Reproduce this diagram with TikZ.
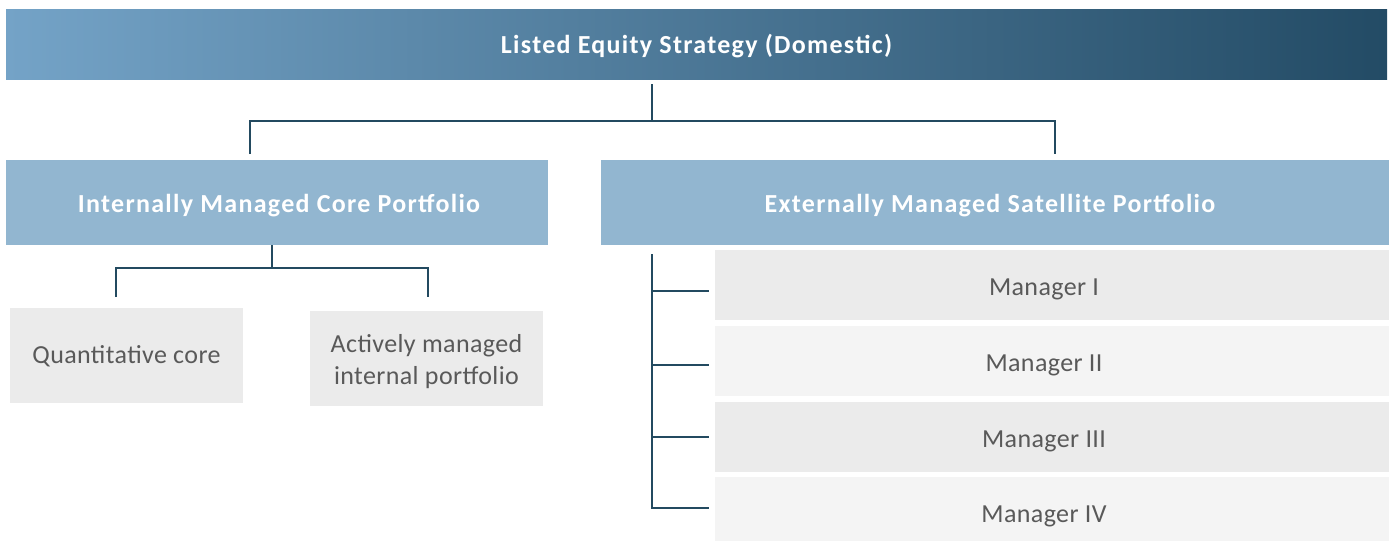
\documentclass[tikz,border=0pt]{standalone}
\usepackage{fontspec}
\setmainfont{Carlito}
\definecolor{topL}{HTML}{74A3C7}
\definecolor{topR}{HTML}{234B65}
\definecolor{midbox}{HTML}{92B6D0}
\definecolor{greyA}{HTML}{EBEBEB}
\definecolor{greyB}{HTML}{F4F4F4}
\definecolor{linec}{HTML}{234A60}
\definecolor{txtgrey}{HTML}{595959}
\newcommand{\hdfont}{\fontsize{26}{28}\selectfont\bfseries\addfontfeature{LetterSpace=5}}
\newcommand{\lffont}{\fontsize{26}{32}\selectfont\addfontfeature{LetterSpace=1.5}}
\newcommand{\dn}[2]{\raisebox{-#1pt}[\height][\depth]{#2}}
\tikzset{
  boxbase/.style={inner sep=0pt, outer sep=0pt, anchor=north west, align=center},
  topbox/.style={boxbase, left color=topL, right color=topR, text=white, font=\hdfont},
  midnode/.style={boxbase, fill=midbox, text=white, font=\hdfont},
  leafA/.style={boxbase, fill=greyA, text=txtgrey, font=\lffont},
  leafB/.style={boxbase, fill=greyB, text=txtgrey, font=\lffont},
  conn/.style={draw=linec, line width=2.8pt}
}
\begin{document}
\begin{tikzpicture}[x=1pt,y=-1pt]
\useasboundingbox (0,0) rectangle (1392,541);
% top
\node[topbox, minimum width=1381pt, minimum height=70pt] (top) at (6,9) {\dn{2.5}{Listed Equity Strategy (Domestic)}};
% mid
\node[midnode, minimum width=542pt, minimum height=85pt] (core) at (6,160) {\dn{3}{\hspace*{4pt}Internally Managed Core Portfolio}};
\node[midnode, minimum width=788pt, minimum height=85pt] (sat) at (601,160) {\dn{3}{\hspace*{-10pt}Externally Managed Satellite Portfolio}};
% leaves left
\node[leafA, minimum width=233pt, minimum height=95pt] (quant) at (10,308) {\dn{1}{Quantitative core}};
\node[leafA, minimum width=233pt, minimum height=95pt] (active) at (310,311) {\dn{4}{\begin{tabular}{@{}c@{}}Actively managed\\internal portfolio\end{tabular}}};
% managers
\node[leafA, minimum width=674pt, minimum height=70pt] (m1) at (715,250) {\dn{4}{\hspace*{-16pt}Manager I}};
\node[leafB, minimum width=674pt, minimum height=70pt] (m2) at (715,326) {\dn{4}{\hspace*{-16pt}Manager II}};
\node[leafA, minimum width=674pt, minimum height=70pt] (m3) at (715,402) {\dn{4}{\hspace*{-16pt}Manager III}};
\node[leafB, minimum width=674pt, minimum height=64pt] (m4) at (715,477) {\dn{7}{\hspace*{-16pt}Manager IV}};
% connectors top
\coordinate (t0) at (652,84);
\coordinate (tj) at (652,121);
\coordinate (tl) at (250,121);
\coordinate (tr) at (1055,121);
\coordinate (tlb) at (250,154);
\coordinate (trb) at (1055,154);
\draw[conn] (t0) -- (tj);
\draw[conn] (tlb) -- (tl) -- (tr) -- (trb);
% connectors core
\coordinate (c0) at (272,245);
\coordinate (cj) at (272,268);
\coordinate (cl) at (116,268);
\coordinate (cr) at (428,268);
\coordinate (clb) at (116,297);
\coordinate (crb) at (428,297);
\draw[conn] (c0) -- (cj);
\draw[conn] (clb) -- (cl) -- (cr) -- (crb);
% bracket managers
\coordinate (b0) at (652,254);
\coordinate (b1) at (652,291);
\coordinate (b2) at (652,365);
\coordinate (b3) at (652,437);
\coordinate (b4) at (652,508);
\coordinate (e1) at (709,291);
\coordinate (e2) at (709,365);
\coordinate (e3) at (709,437);
\coordinate (e4) at (709,508);
\draw[conn] (b0) -- (b4) -- (e4);
\draw[conn] (b1) -- (e1);
\draw[conn] (b2) -- (e2);
\draw[conn] (b3) -- (e3);
\end{tikzpicture}
\end{document}
